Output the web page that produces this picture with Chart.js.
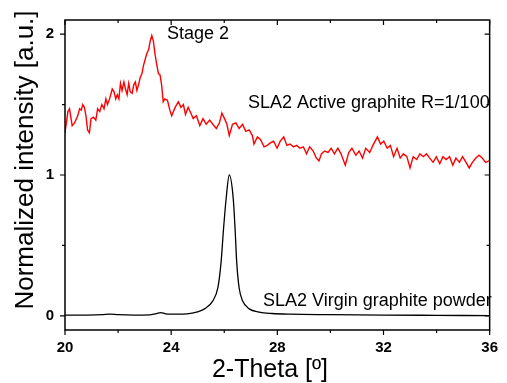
<!DOCTYPE html>
<html>
<head>
<meta charset="utf-8">
<script src="https://cdn.jsdelivr.net/npm/chart.js@4/dist/chart.umd.min.js"></script>
<style>
  html, body { margin: 0; padding: 0; background: #fff; }
  canvas { display: block; }
</style>
</head>
<body>
<canvas id="xrd" width="507" height="383"></canvas>
<script>
// red curve: SLA2 active graphite R=1/100
const activeTheta = [
  20.0, 20.11, 20.17, 20.27, 20.36, 20.48, 20.55, 20.61, 20.67, 20.73, 20.79, 20.85, 20.92, 20.98,
  21.07, 21.16, 21.23, 21.31, 21.39, 21.47, 21.54, 21.60, 21.68, 21.78, 21.85, 21.91, 21.97,
  22.03, 22.09, 22.15, 22.22, 22.28, 22.34, 22.40, 22.46, 22.53, 22.59, 22.65, 22.71, 22.77, 22.83, 22.90, 22.96,
  23.02, 23.08, 23.15, 23.21, 23.27, 23.33, 23.39, 23.45, 23.52, 23.58, 23.64, 23.70, 23.76, 23.86, 23.95,
  24.02, 24.15, 24.27, 24.37, 24.46, 24.54, 24.64, 24.74, 24.83, 24.95,
  25.08, 25.20, 25.32, 25.45, 25.57, 25.70, 25.82, 25.91,
  26.01, 26.10, 26.19, 26.31, 26.44, 26.56, 26.69, 26.81, 26.94,
  27.06, 27.12, 27.25, 27.37, 27.50, 27.62, 27.75, 27.86, 27.99,
  28.11, 28.24, 28.36, 28.48, 28.61, 28.73, 28.85, 28.98,
  29.10, 29.22, 29.35, 29.47, 29.57, 29.66, 29.78, 29.91,
  30.03, 30.15, 30.28, 30.40, 30.56, 30.69, 30.81, 30.96,
  31.08, 31.21, 31.33, 31.48, 31.60, 31.77, 31.89,
  32.01, 32.14, 32.26, 32.38, 32.51, 32.63, 32.75, 32.88,
  33.00, 33.12, 33.25, 33.37, 33.50, 33.62, 33.74, 33.87, 33.99,
  34.12, 34.24, 34.36, 34.49, 34.61, 34.73, 34.86, 34.98,
  35.11, 35.23, 35.35, 35.48, 35.60, 35.72, 35.85, 35.97, 36.0
];
const activeIntensity = [
  1.30, 1.45, 1.47, 1.35, 1.37, 1.42, 1.47, 1.46, 1.50, 1.48, 1.42, 1.32, 1.30, 1.40,
  1.41, 1.39, 1.47, 1.45, 1.50, 1.47, 1.54, 1.50, 1.54, 1.61, 1.59, 1.54, 1.57,
  1.54, 1.65, 1.60, 1.66, 1.61, 1.57, 1.65, 1.59, 1.58, 1.64, 1.66, 1.60, 1.64, 1.69, 1.72, 1.78,
  1.82, 1.86, 1.89, 1.95, 1.99, 1.95, 1.86, 1.79, 1.72, 1.71, 1.64, 1.52, 1.54, 1.53, 1.46,
  1.42, 1.48, 1.52, 1.48, 1.50, 1.43, 1.48, 1.44, 1.40, 1.42,
  1.35, 1.40, 1.36, 1.39, 1.36, 1.33, 1.37, 1.44,
  1.40, 1.36, 1.28, 1.36, 1.37, 1.33, 1.36, 1.31, 1.32,
  1.28, 1.22, 1.27, 1.25, 1.20, 1.21, 1.23, 1.24, 1.19,
  1.24, 1.27, 1.21, 1.22, 1.20, 1.21, 1.19, 1.20,
  1.15, 1.20, 1.17, 1.12, 1.10, 1.15, 1.17, 1.16,
  1.19, 1.15, 1.19, 1.15, 1.07, 1.16, 1.19, 1.14,
  1.17, 1.12, 1.19, 1.16, 1.21, 1.27, 1.22,
  1.24, 1.19, 1.21, 1.13, 1.19, 1.12, 1.15, 1.13,
  1.05, 1.13, 1.11, 1.15, 1.13, 1.15, 1.12, 1.09, 1.13,
  1.08, 1.13, 1.11, 1.13, 1.07, 1.12, 1.09, 1.13,
  1.09, 1.05, 1.09, 1.12, 1.14, 1.12, 1.09, 1.10, 1.10
];

// black curve: SLA2 virgin graphite powder
const virginTheta = [
  20.0, 20.8, 21.4, 21.7, 22.0, 22.6, 23.2, 23.45, 23.6, 23.8, 24.2, 24.6, 24.95,
  25.26, 25.57, 25.76, 25.88, 25.97, 26.07, 26.19, 26.34, 26.41, 26.47, 26.56, 26.69, 26.94,
  27.31, 27.8, 28.5, 30.0, 32.0, 34.0, 36.0
];
const virginIntensity = [
  0.005, 0.006, 0.009, 0.013, 0.009, 0.006, 0.008, 0.016, 0.024, 0.015, 0.012, 0.015, 0.027,
  0.05, 0.107, 0.2, 0.38, 0.61, 0.83, 1.0, 0.83, 0.61, 0.38, 0.2, 0.107, 0.05,
  0.027, 0.017, 0.012, 0.009, 0.006, 0.004, 0.002
];

const xTickLabels = [20, 24, 28, 32, 36];
const yTickLabels = [0, 1, 2];

const toPoints = (xs, ys) => xs.map((x, i) => ({ x: x, y: ys[i] }));
const near = (list, v) => list.find(t => Math.abs(t - v) < 1e-6);

// frame, mirrored ticks and the text labels inside the plot
const decorations = {
  id: 'decorations',
  afterDraw(chart) {
    const ctx = chart.ctx;
    const a = chart.chartArea;
    const xs = chart.scales.x, ys = chart.scales.y;
    ctx.save();
    ctx.strokeStyle = '#000';
    ctx.lineWidth = 1.5;
    ctx.strokeRect(a.left, a.top, a.right - a.left, a.bottom - a.top);

    ctx.lineWidth = 1.2;
    ctx.beginPath();
    for (let v = 20; v <= 36; v += 2) {
      const px = xs.getPixelForValue(v);
      const len = near(xTickLabels, v) !== undefined ? 5 : 3;
      ctx.moveTo(px, a.bottom); ctx.lineTo(px, a.bottom + len);
      ctx.moveTo(px, a.top); ctx.lineTo(px, a.top + len);
    }
    for (let v = 0; v <= 2; v += 0.5) {
      const py = ys.getPixelForValue(v);
      const len = near(yTickLabels, v) !== undefined ? 5 : 3;
      ctx.moveTo(a.left, py); ctx.lineTo(a.left - len, py);
      ctx.moveTo(a.right, py); ctx.lineTo(a.right - len, py);
    }
    ctx.stroke();

    ctx.fillStyle = '#000';
    ctx.textBaseline = 'alphabetic';
    ctx.textAlign = 'left';
    ctx.font = '18px "Liberation Sans", Arial, sans-serif';
    ctx.fillText('Stage 2', 167, 39);
    ctx.fillText('SLA2 Active graphite R=1/100', 248, 108);
    ctx.fillText('SLA2 Virgin graphite powder', 263, 306);

    ctx.textAlign = 'center';
    ctx.font = '25px "Liberation Sans", Arial, sans-serif';
    ctx.fillText('2-Theta [º]', 270, 377);

    ctx.translate(33, 160);
    ctx.rotate(-Math.PI / 2);
    ctx.font = '26px "Liberation Sans", Arial, sans-serif';
    ctx.fillText('Normalized intensity [a.u.]', 0, 0);
    ctx.restore();
  }
};

const tickFont = { family: '"Liberation Sans", Arial, sans-serif', size: 15, weight: 'bold' };

new Chart(document.getElementById('xrd'), {
  type: 'line',
  data: {
    datasets: [
      {
        label: 'SLA2 Active graphite R=1/100',
        data: toPoints(activeTheta, activeIntensity),
        borderColor: '#ff0000',
        borderWidth: 1.4,
        pointRadius: 0,
        tension: 0
      },
      {
        label: 'SLA2 Virgin graphite powder',
        data: toPoints(virginTheta, virginIntensity),
        borderColor: '#000000',
        borderWidth: 1.3,
        pointRadius: 0,
        cubicInterpolationMode: 'monotone'
      }
    ]
  },
  options: {
    responsive: false,
    animation: false,
    devicePixelRatio: 1,
    layout: { padding: { top: 7, right: 11, left: 0, bottom: 0 } },
    plugins: { legend: { display: false }, tooltip: { enabled: false } },
    scales: {
      x: {
        type: 'linear',
        min: 20,
        max: 36,
        grid: { display: false, drawTicks: false },
        border: { display: false },
        afterFit: s => { s.height = 53; },
        afterBuildTicks: s => { s.ticks = xTickLabels.map(v => ({ value: v })); },
        ticks: {
          autoSkip: false,
          maxRotation: 0,
          padding: 9,
          color: '#000',
          font: tickFont,
          callback: v => String(v)
        }
      },
      y: {
        min: -0.1,
        max: 2.1,
        grid: { display: false, drawTicks: false },
        border: { display: false },
        afterFit: s => { s.width = 65; },
        afterBuildTicks: s => { s.ticks = yTickLabels.map(v => ({ value: v })); },
        ticks: {
          autoSkip: false,
          padding: 11,
          color: '#000',
          font: tickFont,
          callback: v => String(v)
        }
      }
    }
  },
  plugins: [decorations]
});
</script>
</body>
</html>
